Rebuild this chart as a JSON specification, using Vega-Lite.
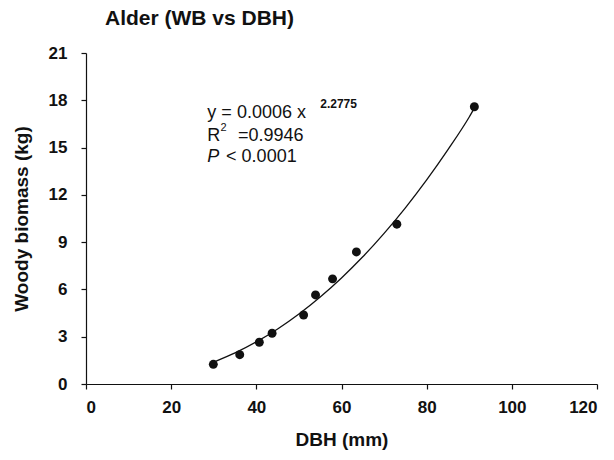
{
  "$schema": "https://vega.github.io/schema/vega-lite/v6.json",
  "width": 511,
  "height": 331,
  "autosize": {"type": "none"},
  "padding": {"left": 86, "top": 53, "right": 17, "bottom": 76},
  "background": "white",
  "config": {
    "view": {"stroke": null},
    "font": "Liberation Sans",
    "axis": {
      "grid": false,
      "domainColor": "#111",
      "domainWidth": 1.2,
      "tickColor": "#111",
      "tickWidth": 1.2,
      "tickSize": 5,
      "labelFont": "Liberation Sans",
      "labelFontWeight": "bold",
      "labelFontSize": 17,
      "labelColor": "#111",
      "titleFont": "Liberation Sans",
      "titleFontWeight": "bold",
      "titleFontSize": 19,
      "titleColor": "#111"
    }
  },
  "title": {
    "text": "Alder (WB vs DBH)",
    "anchor": "start",
    "frame": "group",
    "font": "Liberation Sans",
    "fontSize": 21,
    "fontWeight": "bold",
    "color": "#111",
    "dx": 19,
    "dy": 27,
    "offset": 25,
    "baseline": "alphabetic"
  },
  "datasets": {
    "pts": [
      {"dbh": 29.9, "wb": 1.25},
      {"dbh": 36.1, "wb": 1.86},
      {"dbh": 40.7, "wb": 2.65},
      {"dbh": 43.7, "wb": 3.22},
      {"dbh": 51.1, "wb": 4.38},
      {"dbh": 53.9, "wb": 5.65},
      {"dbh": 57.9, "wb": 6.67},
      {"dbh": 63.5, "wb": 8.38},
      {"dbh": 73.0, "wb": 10.14},
      {"dbh": 91.2, "wb": 17.59}
    ],
    "fit": [
      {"dbh": 30, "wb": 1.39},
      {"dbh": 35, "wb": 1.97},
      {"dbh": 40, "wb": 2.67},
      {"dbh": 45, "wb": 3.49},
      {"dbh": 50, "wb": 4.44},
      {"dbh": 55, "wb": 5.52},
      {"dbh": 60, "wb": 6.73},
      {"dbh": 65, "wb": 8.07},
      {"dbh": 70, "wb": 9.56},
      {"dbh": 75, "wb": 11.18},
      {"dbh": 80, "wb": 12.95},
      {"dbh": 85, "wb": 14.87},
      {"dbh": 90, "wb": 16.94},
      {"dbh": 91.2, "wb": 17.5}
    ],
    "txt": [
      {"dbh": 28.5, "wb": 16.88, "label": "y = 0.0006 x"},
      {"dbh": 28.5, "wb": 15.43, "label": "R"},
      {"dbh": 35.7, "wb": 15.43, "label": "=0.9946"},
      {"dbh": 32.9, "wb": 14.06, "label": "< 0.0001"}
    ],
    "sup": [
      {"dbh": 55.0, "wb": 17.5, "label": "2.2775"}
    ],
    "sup2": [
      {"dbh": 31.6, "wb": 16.03, "label": "2"}
    ],
    "ital": [
      {"dbh": 28.5, "wb": 14.06, "label": "P"}
    ]
  },
  "encoding": {
    "x": {
      "field": "dbh",
      "type": "quantitative",
      "scale": {"domain": [0, 120], "nice": false, "zero": false},
      "axis": {"title": "DBH (mm)", "values": [0, 20, 40, 60, 80, 100, 120], "labelPadding": 10, "titlePadding": 15}
    },
    "y": {
      "field": "wb",
      "type": "quantitative",
      "scale": {"domain": [0, 21], "nice": false, "zero": false},
      "axis": {"title": "Woody biomass (kg)", "values": [0, 3, 6, 9, 12, 15, 18, 21], "labelPadding": 14, "titlePadding": 17}
    }
  },
  "layer": [
    {
      "data": {"name": "fit"},
      "mark": {"type": "line", "color": "#111", "strokeWidth": 1.3, "interpolate": "monotone"}
    },
    {
      "data": {"name": "pts"},
      "mark": {"type": "circle", "color": "#111", "opacity": 1, "size": 80}
    },
    {
      "data": {"name": "txt"},
      "mark": {"type": "text", "align": "left", "baseline": "alphabetic", "fontSize": 18, "color": "#111", "font": "Liberation Sans"},
      "encoding": {"text": {"field": "label"}}
    },
    {
      "data": {"name": "sup"},
      "mark": {"type": "text", "align": "left", "baseline": "alphabetic", "fontSize": 12, "fontWeight": "bold", "color": "#111", "font": "Liberation Sans"},
      "encoding": {"text": {"field": "label"}}
    },
    {
      "data": {"name": "sup2"},
      "mark": {"type": "text", "align": "left", "baseline": "alphabetic", "fontSize": 11, "color": "#111", "font": "Liberation Sans"},
      "encoding": {"text": {"field": "label"}}
    },
    {
      "data": {"name": "ital"},
      "mark": {"type": "text", "align": "left", "baseline": "alphabetic", "fontSize": 18, "fontStyle": "italic", "color": "#111", "font": "Liberation Sans"},
      "encoding": {"text": {"field": "label"}}
    }
  ]
}
